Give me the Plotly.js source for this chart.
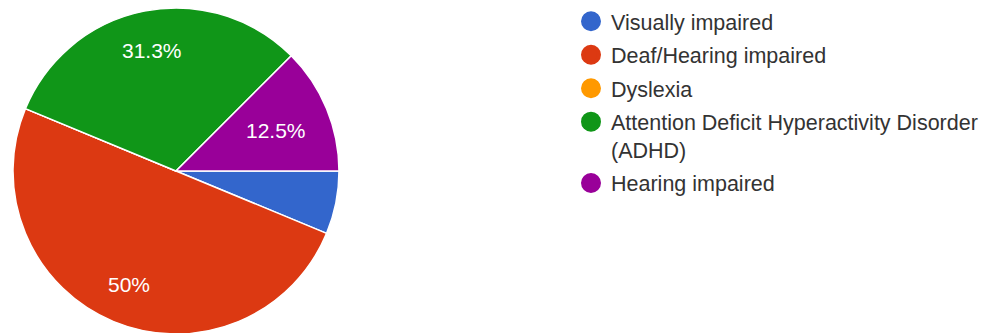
<!DOCTYPE html>
<html>
<head>
<meta charset="utf-8">
<script src="https://cdn.plot.ly/plotly-3.0.1.min.js"></script>
<style>
  html, body { margin: 0; padding: 0; background: #fff; overflow: hidden; }
  #chart { width: 998px; height: 338px; }
</style>
</head>
<body>
<div id="chart"></div>
<script>
// Responses per category
const categories = [
  'Visually impaired',
  'Deaf/Hearing impaired',
  'Dyslexia',
  'Attention Deficit Hyperactivity Disorder (ADHD)',
  'Hearing impaired'
];
const counts = [1, 8, 0, 5, 2];
const colors = ['#3366cc', '#dc3912', '#ff9900', '#109618', '#990099'];
// Legend labels (long name wrapped onto two lines)
const legendLabels = [
  'Visually impaired',
  'Deaf/Hearing impaired',
  'Dyslexia',
  'Attention Deficit Hyperactivity Disorder<br>(ADHD)',
  'Hearing impaired'
];

const FONT = 'Liberation Sans, Arial, sans-serif';
const LABEL_SIZE = 21;

// Figure geometry
const W = 998, H = 338;
const M = { l: 0, r: 0, t: 8, b: 4 };
const pieDomainX = [0.013, 0.3397];
const plotW = W - M.l - M.r, plotH = H - M.t - M.b;

const total = counts.reduce((a, b) => a + b, 0);
// Percent labels, hidden for thin slices
const sliceText = counts.map(v => {
  const p = v / total * 100;
  return p >= 10 ? (Math.round(p * 10) / 10) + '%' : '';
});

// Place each percent label along its slice's bisector, pushed outward
// until the text box reaches a fixed fraction of the radius.
const measure = document.createElement('canvas').getContext('2d');
measure.font = LABEL_SIZE + 'px ' + FONT;
const cx = M.l + (pieDomainX[0] + pieDomainX[1]) / 2 * plotW;
const R = Math.min((pieDomainX[1] - pieDomainX[0]) * plotW, plotH) / 2;
const cy = M.t + plotH / 2;
const annotations = [];
let cum = 0;
counts.forEach((v, i) => {
  const a0 = cum / total * 2 * Math.PI;
  cum += v;
  const a1 = cum / total * 2 * Math.PI;
  if (!sliceText[i]) return;
  const mid = (a0 + a1) / 2;            // clockwise from 3 o'clock
  const ux = Math.cos(mid), uy = Math.sin(mid);
  const hw = measure.measureText(sliceText[i]).width / 2, hh = LABEL_SIZE / 2;
  const d = 0.857 * R - (Math.abs(ux) * hw + Math.abs(uy) * hh);
  const px = cx + ux * d, py = cy + uy * d;
  annotations.push({
    xref: 'paper', yref: 'paper',
    x: (px - M.l) / plotW,
    y: 1 - (py - M.t) / plotH,
    xanchor: 'center', yanchor: 'middle',
    yshift: -1,
    text: sliceText[i],
    showarrow: false,
    font: { family: FONT, size: LABEL_SIZE, color: '#ffffff' }
  });
});

const pie = {
  type: 'pie',
  labels: categories,
  values: counts,
  marker: { colors: colors, line: { color: '#ffffff', width: 1.5 } },
  sort: false,
  direction: 'clockwise',
  rotation: 90,
  textinfo: 'none',
  showlegend: false,
  hoverinfo: 'label+percent',
  domain: { x: pieDomainX, y: [0, 1] }
};

// Circle swatches for the legend
const legendTraces = categories.map((c, i) => ({
  type: 'scatter',
  mode: 'markers',
  x: [null],
  y: [null],
  name: legendLabels[i],
  legendgroup: 'g' + i,
  marker: { color: colors[i], size: 16, symbol: 'circle', line: { color: colors[i], width: 4 } },
  showlegend: true,
  hoverinfo: 'skip'
}));

const layout = {
  width: W,
  height: H,
  margin: M,
  paper_bgcolor: '#ffffff',
  plot_bgcolor: '#ffffff',
  xaxis: { visible: false },
  yaxis: { visible: false },
  annotations: annotations,
  showlegend: true,
  legend: {
    x: 571 / W,
    y: 1.022,
    xanchor: 'left',
    yanchor: 'top',
    valign: 'top',
    maxheight: 330,
    tracegroupgap: 2.5,
    itemclick: false,
    font: { family: FONT, size: 21.5, color: '#333333' },
    bgcolor: 'rgba(0,0,0,0)'
  }
};

Plotly.newPlot('chart', [pie].concat(legendTraces), layout, { displayModeBar: false, staticPlot: true });
</script>
</body>
</html>
